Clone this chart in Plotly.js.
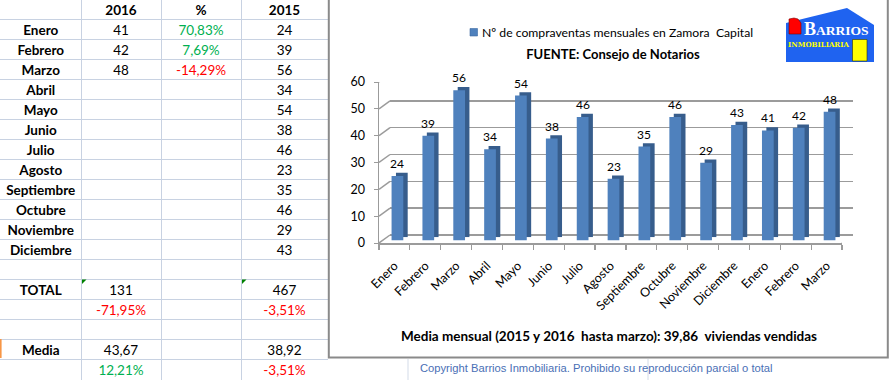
<!DOCTYPE html>
<html><head><meta charset="utf-8">
<script src="https://cdn.plot.ly/plotly-3.0.1.min.js"></script>
<style>html,body{margin:0;padding:0;background:#fff}</style>
</head><body><div id="chart" style="width:890px;height:380px"></div>
<script>
// ---------- DATA ----------
const monthLabels = ['Enero','Febrero','Marzo','Abril','Mayo','Junio','Julio','Agosto','Septiembre','Octubre','Noviembre','Diciembre','Enero','Febrero','Marzo'];
const sales = [24,39,56,34,54,38,46,23,35,46,29,43,41,42,48];
const seriesName = 'Nº de compraventas mensuales en Zamora \u00a0Capital';
const yTicks = [0,10,20,30,40,50,60];

const tableHeader = ['', '2016', '%', '2015'];
const tableMonths = ['Enero','Febrero','Marzo','Abril','Mayo','Junio','Julio','Agosto','Septiembre','Octubre','Noviembre','Diciembre'];
const values2016 = ['41','42','48'];
const pctMonths = ['70,83%','7,69%','-14,29%'];
const values2015 = ['24','39','56','34','54','38','46','23','35','46','29','43'];
const totalRow = ['TOTAL','131','','467'];
const totalPctRow = ['','-71,95%','','-3,51%'];
const mediaRow = ['Media','43,67','','38,92'];
const mediaPctRow = ['','12,21%','','-3,51%'];

const titleText = 'FUENTE: Consejo de Notarios';
const footerText = 'Media mensual (2015 y 2016 \u00a0hasta marzo): 39,86 \u00a0viviendas vendidas';
const copyrightText = 'Copyright Barrios Inmobiliaria. Prohibido su reproducción parcial o total';

// ---------- GEOMETRY HELPERS ----------
const W = 890, H = 380;
const fx = p => p / W;
const fy = p => 1 - p / H;
function plane(dx, dy) { return { x: [fx(379 + dx), fx(842 + dx)], y: [fy(243 - dy), fy(82 - dy)] }; }
const back = plane(11, 8), shadow = plane(7.4, 5.8), mainP = plane(3, 2.5), front = plane(0, 0);
const idx = sales.map((_, i) => i);
const bounds = idx.map(i => i - 0.5).concat([sales.length - 0.5]);
const xr = [-0.5, sales.length - 0.5];
const yr = [0, 60];
const FONT = 'Lato, Calibri, sans-serif';
const gridC = '#9b9b9b';
const cellLine = '#c8d2e2';
const barBlue = '#4f81bd';

// ---------- TABLE (drawn on its own axes: columns in px units, rows in row units) ----------
const colEdges = [0.5, 81, 161, 241, 328];
const colCenters = colEdges.slice(0, -1).map((e, i) => (e + colEdges[i + 1]) / 2);
const textDrop = 0.14; // vertical text offset inside a row (row units)
const blanks = n => Array(n).fill('');
const b = s => s ? '<b>' + s + '</b>' : '';
const rowsBody = tableMonths.map((m, i) => [b(m), values2016[i] || '', pctMonths[i] || '', values2015[i] || ''])
  .concat([blanks(4), [b(totalRow[0]), totalRow[1], totalRow[2], totalRow[3]], totalPctRow, blanks(4),
           [b(mediaRow[0]), mediaRow[1], mediaRow[2], mediaRow[3]], mediaPctRow]);
const allRows = [tableHeader.map(b)].concat(rowsBody);
const colorOf = s => (s.endsWith('%')) ? (s.startsWith('-') ? '#ff0000' : '#00b050') : '#000000';
const tX = [], tY = [], tT = [], tC = [];
allRows.forEach((row, r) => row.forEach((s, c) => { if (s) { tX.push(colCenters[c]); tY.push(r - 1 + textDrop); tT.push(s); tC.push(colorOf(s)); } }));
const rowBounds = allRows.map((_, r) => r - 0.5);

const traces = [
  { type: 'scatter', mode: 'markers', x: idx, y: sales, xaxis: 'x', yaxis: 'y', marker: { opacity: 0 }, hoverinfo: 'skip', showlegend: false },
  { type: 'bar', x: idx, y: sales, xaxis: 'x2', yaxis: 'y2', width: 0.38, marker: { color: '#375d8c' }, hoverinfo: 'skip', showlegend: false },
  { type: 'bar', x: idx, y: sales, xaxis: 'x3', yaxis: 'y3', width: 0.38, name: seriesName, marker: { color: barBlue }, hoverinfo: 'skip', showlegend: false },
  { type: 'scatter', mode: 'markers', x: idx, y: sales, xaxis: 'x4', yaxis: 'y4', marker: { opacity: 0 }, hoverinfo: 'skip', showlegend: false },
  { type: 'scatter', mode: 'text', x: tX, y: tY, text: tT, xaxis: 'x5', yaxis: 'y5', textposition: 'middle center', cliponaxis: false,
    textfont: { family: FONT, size: 13.5, color: tC }, hoverinfo: 'skip', showlegend: false }
];

const hidden = { visible: false, fixedrange: true };
const layout = {
  width: W, height: H, margin: { l: 0, r: 0, t: 0, b: 0 },
  paper_bgcolor: '#ffffff', plot_bgcolor: 'rgba(0,0,0,0)',
  barmode: 'overlay',
  font: { family: FONT, color: '#000' },
  title: { text: '<b>' + titleText + '</b>', xref: 'container', yref: 'container', x: fx(613), xanchor: 'center', y: fy(54.5), yanchor: 'middle', font: { family: FONT, size: 13, color: '#000' } },
  showlegend: false,
  xaxis: Object.assign({ domain: back.x, range: xr, anchor: 'y' }, hidden),
  yaxis: { domain: back.y, range: yr, anchor: 'x', fixedrange: true, showgrid: true, gridcolor: gridC, gridwidth: 1.5, tickmode: 'array', tickvals: yTicks, showticklabels: false, ticks: '', zeroline: true, zerolinecolor: gridC, zerolinewidth: 1.5, showline: false },
  xaxis2: Object.assign({ domain: shadow.x, range: xr, anchor: 'y2' }, hidden),
  yaxis2: Object.assign({ domain: shadow.y, range: yr, anchor: 'x2' }, hidden),
  xaxis3: Object.assign({ domain: mainP.x, range: xr, anchor: 'y3' }, hidden),
  yaxis3: Object.assign({ domain: mainP.y, range: yr, anchor: 'x3' }, hidden),
  xaxis4: { domain: front.x, range: xr, anchor: 'y4', fixedrange: true, tickmode: 'array', tickvals: idx, ticktext: monthLabels, tickangle: -45, ticks: '', ticklabelstandoff: 9, showline: true, linecolor: gridC, linewidth: 1.5, showgrid: false, zeroline: false, tickfont: { family: FONT, size: 12.5, color: '#000' },
    minor: { tickmode: 'array', tickvals: bounds, ticks: 'outside', ticklen: 5, tickcolor: gridC, tickwidth: 1.2, showgrid: false } },
  yaxis4: { domain: front.y, range: yr, anchor: 'x4', fixedrange: true, tickmode: 'array', tickvals: yTicks, ticks: 'outside', ticklen: 4, tickcolor: gridC, showline: true, linecolor: gridC, linewidth: 1.5, showgrid: false, zeroline: false, tickfont: { family: FONT, size: 12.5, color: '#000' }, ticklabelstandoff: 6 },
  xaxis5: { domain: [0, fx(328)], range: [0, 328], anchor: 'y5', fixedrange: true, showgrid: true, gridcolor: cellLine, gridwidth: 1, tickmode: 'array', tickvals: colEdges, showticklabels: false, ticks: '', zeroline: false, showline: false },
  yaxis5: { domain: [0, 1], range: [17.55, -1.45], anchor: 'x5', fixedrange: true, showgrid: true, gridcolor: cellLine, gridwidth: 1, tickmode: 'array', tickvals: rowBounds.concat([allRows.length - 1.5]), showticklabels: false, ticks: '', zeroline: false, showline: false },
  shapes: [],
  annotations: []
};

// legend (square swatch + series name)
layout.shapes.push({ type: 'rect', xref: 'paper', yref: 'paper', x0: fx(470), x1: fx(477.5), y0: fy(36), y1: fy(28.5), fillcolor: barBlue, line: { color: '#3c6aa3', width: 0.6 } });
layout.annotations.push({ xref: 'paper', yref: 'paper', x: fx(480), y: fy(32.3), xanchor: 'left', yanchor: 'middle', showarrow: false, text: seriesName, font: { family: FONT, size: 12.2, color: '#000' } });

// left wall diagonals (3D effect)
yTicks.forEach(v => layout.shapes.push({ type: 'line', xref: 'x4', yref: 'y4', xsizemode: 'pixel', ysizemode: 'pixel', xanchor: xr[0], yanchor: v, x0: 0, x1: 11, y0: 0, y1: 8, line: { color: gridC, width: 1.5 } }));
// floor right edge
layout.shapes.push({ type: 'line', xref: 'x4', yref: 'y4', xsizemode: 'pixel', ysizemode: 'pixel', xanchor: xr[1], yanchor: 0, x0: 0, x1: 11, y0: 0, y1: 8, line: { color: gridC, width: 1.5 } });
// chart frame
layout.shapes.push({ type: 'rect', xref: 'paper', yref: 'paper', x0: fx(328.8), x1: fx(887.8), y0: fy(357.6), y1: fy(-4), line: { color: '#8a8a8a', width: 2 }, fillcolor: 'rgba(0,0,0,0)' });
// spreadsheet gridlines peeking under the chart frame
[408, 648].forEach(x => layout.shapes.push({ type: 'line', xref: 'paper', yref: 'paper', x0: fx(x), x1: fx(x), y0: fy(359), y1: fy(380), line: { color: '#d3dbe8', width: 1 } }));
// orange row marker & green error triangles in the table
layout.shapes.push({ type: 'line', xref: 'paper', yref: 'paper', x0: fx(0.8), x1: fx(0.8), y0: fy(339), y1: fy(358), line: { color: '#f79646', width: 1.6 } });
[82, 242].forEach(x => layout.shapes.push({ type: 'path', xref: 'paper', yref: 'paper',
  path: `M${fx(x)},${fy(279.5)} L${fx(x + 4.5)},${fy(279.5)} L${fx(x)},${fy(284)} Z`, fillcolor: '#008000', line: { width: 0 } }));

// logo
const P = pts => 'M' + pts.map(p => fx(p[0]) + ',' + fy(p[1])).join(' L') + ' Z';
layout.shapes.push({ type: 'path', xref: 'paper', yref: 'paper', path: P([[786, 62], [786, 23], [847, 8], [874, 25], [874, 62]]), fillcolor: '#1f63f0', line: { width: 0 } });
layout.shapes.push({ type: 'path', xref: 'paper', yref: 'paper', path: P([[789, 34], [789, 19], [794, 18], [798, 19], [801, 23], [801, 34]]), fillcolor: '#ff0000', line: { color: '#7a0000', width: 0.6 } });
layout.shapes.push({ type: 'rect', xref: 'paper', yref: 'paper', x0: fx(852.5), x1: fx(867), y0: fy(61), y1: fy(39.5), fillcolor: '#ffff00', line: { color: '#333300', width: 0.6 } });
layout.annotations.push({ xref: 'paper', yref: 'paper', x: fx(802), y: fy(29.5), xanchor: 'left', yanchor: 'middle', showarrow: false, text: '<b>B<span style="font-size:13.5px">ARRIOS</span></b>', font: { family: 'Liberation Serif, serif', size: 18, color: '#ffffff' } });
layout.annotations.push({ xref: 'paper', yref: 'paper', x: fx(818.5), y: fy(44.5), xanchor: 'center', yanchor: 'middle', showarrow: false, text: '<b>INMOBILIARIA</b>', font: { family: 'DejaVu Serif, serif', size: 7, color: '#ffff00' } });

// data labels
sales.forEach((v, i) => layout.annotations.push({ xref: 'x3', yref: 'y3', x: i, y: v, text: String(v), showarrow: false, xanchor: 'center', yanchor: 'bottom', yshift: 3, font: { family: FONT, size: 12, color: '#000' } }));
// footer & copyright
layout.annotations.push({ xref: 'paper', yref: 'paper', x: fx(609), y: fy(336), xanchor: 'center', yanchor: 'middle', showarrow: false, text: '<b>' + footerText + '</b>', font: { family: FONT, size: 13.5, color: '#000' } });
layout.annotations.push({ xref: 'paper', yref: 'paper', x: fx(596), y: fy(367.5), xanchor: 'center', yanchor: 'middle', showarrow: false, text: copyrightText, font: { family: 'Liberation Sans, Arial, sans-serif', size: 11.2, color: '#4a6fb5' } });

Plotly.newPlot('chart', traces, layout, { staticPlot: true, displayModeBar: false });
</script></body></html>
